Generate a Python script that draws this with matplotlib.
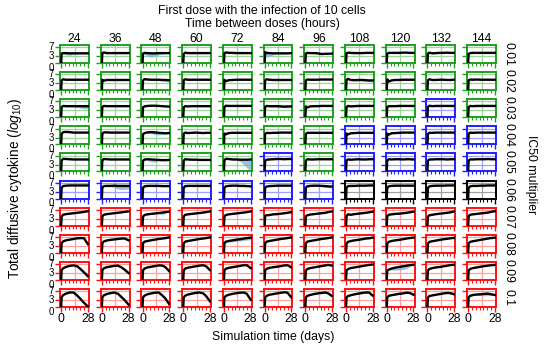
import matplotlib
matplotlib.use("Agg")
import matplotlib.pyplot as plt

plt.rcParams['font.family'] = ['Liberation Sans', 'DejaVu Sans']
plt.rcParams['mathtext.fontset'] = 'custom'
plt.rcParams['mathtext.it'] = 'Liberation Sans:italic'
plt.rcParams['mathtext.rm'] = 'Liberation Sans'

# ---------------- data ----------------
intervals = ["24", "36", "48", "60", "72", "84", "96", "108", "120", "132", "144"]
multipliers = ["0.01", "0.02", "0.03", "0.04", "0.05", "0.06", "0.07", "0.08", "0.09", "0.1"]
days = [0, 0.5, 2, 5, 9, 13, 17, 21, 24, 28]

frame_codes = [
    "GGGGGGGGGGG",
    "GGGGGGGGGGG",
    "GGGGGGGGGBG",
    "GGGGGGGBBBB",
    "GGGGGBGBBBB",
    "BBBBBBBKKKK",
    "RRRRRRRRRRR",
    "RRRRRRRRRRR",
    "RRRRRRRRRRR",
    "RRRRRRRRRRR",
]

ic50_001 = [
    [0, 4.2, 4.4, 4.4, 4.3, 4.3, 4.3, 4.3, 4.3, 4.3],
    [0, 4.3, 4.7, 4.4, 4.4, 4.4, 4.4, 4.4, 4.4, 4.4],
    [0, 4.2, 4.5, 4.4, 4.3, 4.3, 4.4, 4.4, 4.4, 4.4],
    [0, 4.0, 4.6, 4.4, 4.4, 4.4, 4.4, 4.4, 4.4, 4.4],
    [0, 4.3, 4.7, 4.5, 4.5, 4.4, 4.4, 4.4, 4.4, 4.4],
    [0, 4.8, 4.5, 4.4, 4.3, 4.3, 4.3, 4.3, 4.3, 4.4],
    [0, 4.2, 4.5, 4.4, 4.4, 4.3, 4.0, 4.1, 4.1, 4.2],
    [0, 4.3, 4.6, 4.5, 4.4, 4.4, 4.4, 4.5, 4.5, 4.5],
    [0, 4.2, 4.5, 4.5, 4.5, 4.5, 4.6, 4.6, 4.5, 4.5],
    [0, 4.2, 4.6, 4.3, 4.4, 4.5, 4.5, 4.6, 4.5, 4.5],
    [0, 4.0, 4.4, 4.5, 4.5, 4.5, 4.5, 4.5, 4.5, 4.5],
]
ic50_002 = [
    [0, 4.3, 4.8, 4.6, 4.6, 4.6, 4.6, 4.6, 4.6, 4.6],
    [0, 4.6, 4.2, 4.5, 4.5, 4.5, 4.5, 4.5, 4.5, 4.5],
    [0, 4.3, 4.9, 4.7, 4.6, 4.6, 4.6, 4.5, 4.5, 4.4],
    [0, 4.4, 4.8, 4.6, 4.6, 4.6, 4.6, 4.6, 4.6, 4.6],
    [0, 4.6, 4.0, 4.4, 4.5, 4.6, 4.6, 4.6, 4.6, 4.6],
    [0, 4.3, 4.8, 4.6, 4.5, 4.5, 4.5, 4.5, 4.5, 4.5],
    [0, 4.3, 4.7, 4.6, 4.6, 4.6, 4.7, 4.7, 4.7, 4.7],
    [0, 4.5, 5.0, 4.5, 4.4, 4.5, 4.5, 4.4, 4.3, 4.3],
    [0, 4.8, 3.8, 4.3, 4.5, 4.5, 4.6, 4.6, 4.6, 4.6],
    [0, 4.4, 4.8, 4.5, 4.5, 4.6, 4.6, 4.5, 4.5, 4.6],
    [0, 4.3, 4.7, 4.6, 4.7, 4.6, 4.6, 4.6, 4.6, 4.6],
]
ic50_003 = [
    [0, 4.5, 5.0, 4.9, 4.9, 4.9, 4.9, 4.9, 4.9, 4.9],
    [0, 4.5, 5.0, 4.9, 4.9, 4.9, 4.9, 4.9, 4.9, 4.9],
    [0, 4.4, 4.8, 5.0, 5.1, 5.1, 5.0, 4.9, 4.8, 4.7],
    [0, 4.4, 4.9, 4.8, 4.9, 4.9, 4.9, 4.9, 4.9, 4.9],
    [0, 4.5, 5.1, 5.0, 5.0, 5.0, 5.0, 5.0, 5.0, 5.0],
    [0, 4.6, 5.0, 4.9, 4.9, 4.9, 4.8, 4.7, 4.8, 4.8],
    [0, 4.8, 4.3, 4.8, 4.9, 4.9, 5.0, 5.0, 5.0, 5.0],
    [0, 4.5, 5.0, 4.8, 4.9, 5.0, 5.0, 5.0, 5.0, 5.0],
    [0, 4.5, 4.9, 4.9, 4.9, 5.0, 5.0, 5.0, 5.0, 5.0],
    [0, 4.6, 5.1, 4.9, 5.0, 5.0, 5.0, 5.0, 5.0, 5.0],
    [0, 4.5, 5.0, 4.9, 5.0, 5.0, 5.0, 5.0, 5.0, 5.0],
]
ic50_004 = [
    [0, 4.6, 5.4, 5.5, 5.4, 5.2, 5.2, 5.2, 5.2, 5.2],
    [0, 4.6, 5.3, 5.3, 5.2, 5.2, 5.2, 5.2, 5.2, 5.2],
    [0, 4.5, 5.0, 5.3, 5.4, 5.3, 5.1, 5.0, 4.9, 5.0],
    [0, 4.7, 5.2, 5.0, 5.1, 5.2, 5.1, 5.0, 5.1, 5.1],
    [0, 4.8, 4.5, 5.0, 5.1, 5.1, 5.1, 5.1, 5.1, 5.1],
    [0, 4.6, 5.1, 5.0, 5.1, 5.1, 5.2, 5.2, 5.2, 5.2],
    [0, 4.6, 5.1, 5.1, 5.1, 5.1, 5.1, 5.1, 5.1, 5.1],
    [0, 4.8, 4.4, 4.9, 5.0, 5.1, 5.1, 5.1, 5.1, 5.1],
    [0, 4.8, 4.3, 4.9, 5.0, 5.1, 5.2, 5.2, 5.2, 5.2],
    [0, 4.6, 5.1, 5.1, 5.2, 5.2, 5.2, 5.2, 5.2, 5.2],
    [0, 4.6, 5.2, 5.1, 5.2, 5.2, 5.2, 5.2, 5.2, 5.2],
]
ic50_005 = [
    [0, 4.8, 5.6, 5.5, 5.4, 5.3, 5.3, 5.3, 5.3, 5.3],
    [0, 4.8, 5.5, 5.4, 5.3, 5.3, 5.3, 5.3, 5.3, 5.3],
    [0, 4.7, 5.3, 5.4, 5.3, 5.2, 5.1, 5.0, 5.0, 5.1],
    [0, 4.7, 5.4, 5.3, 5.2, 5.2, 5.1, 5.1, 5.1, 5.1],
    [0, 4.9, 5.6, 5.5, 5.3, 5.3, 5.2, 5.2, 5.2, 5.3],
    [0, 4.7, 5.2, 5.3, 5.4, 5.5, 5.5, 5.4, 5.5, 5.5],
    [0, 4.8, 5.4, 5.3, 5.3, 5.4, 5.4, 5.4, 5.4, 5.4],
    [0, 4.8, 5.3, 5.2, 5.3, 5.4, 5.3, 5.3, 5.4, 5.4],
    [0, 4.8, 5.4, 5.3, 5.4, 5.4, 5.3, 5.4, 5.4, 5.3],
    [0, 4.8, 5.3, 5.3, 5.4, 5.4, 5.4, 5.3, 5.4, 5.4],
    [0, 4.8, 5.3, 5.3, 5.4, 5.4, 5.4, 5.5, 5.4, 5.4],
]
ic50_006 = [
    [0, 4.8, 5.5, 5.7, 5.8, 5.8, 5.8, 5.8, 5.8, 5.8],
    [0, 4.8, 5.5, 5.6, 5.6, 5.7, 5.6, 5.6, 5.6, 5.6],
    [0, 4.8, 5.4, 5.6, 5.6, 5.6, 5.6, 5.5, 5.5, 5.5],
    [0, 4.8, 5.5, 5.6, 5.6, 5.6, 5.6, 5.6, 5.6, 5.6],
    [0, 4.8, 5.4, 5.6, 5.7, 5.7, 5.6, 5.6, 5.5, 5.4],
    [0, 4.8, 5.3, 5.5, 5.6, 5.7, 5.7, 5.7, 5.7, 5.7],
    [0, 4.8, 5.4, 5.6, 5.7, 5.7, 5.6, 5.5, 5.4, 5.3],
    [0, 4.8, 5.5, 5.6, 5.6, 5.7, 5.7, 5.7, 5.8, 5.8],
    [0, 4.7, 5.4, 5.6, 5.7, 5.7, 5.7, 5.7, 5.7, 5.7],
    [0, 4.7, 5.4, 5.6, 5.7, 5.7, 5.7, 5.8, 5.8, 5.8],
    [0, 4.7, 5.4, 5.6, 5.6, 5.7, 5.7, 5.8, 5.8, 5.8],
]
ic50_007 = [
    [0, 4.0, 4.8, 5.1, 5.3, 5.5, 5.7, 5.9, 6.1, 6.4],
    [0, 4.0, 4.8, 5.1, 5.3, 5.5, 5.7, 5.9, 6.1, 6.3],
    [0, 4.0, 4.7, 5.0, 5.2, 5.4, 5.6, 5.8, 6.0, 6.2],
    [0, 4.0, 4.8, 5.0, 5.2, 5.4, 5.6, 5.8, 6.0, 6.3],
    [0, 4.0, 4.7, 5.0, 5.2, 5.4, 5.6, 5.8, 6.0, 6.3],
    [0, 4.3, 4.6, 4.7, 5.0, 5.1, 5.3, 5.5, 5.7, 6.0],
    [0, 4.1, 4.6, 4.9, 5.1, 5.3, 5.5, 5.7, 6.0, 6.3],
    [0, 4.1, 5.0, 4.8, 5.1, 5.3, 5.5, 5.7, 5.9, 6.2],
    [0, 4.1, 4.8, 5.0, 5.2, 5.3, 5.5, 5.7, 5.9, 6.2],
    [0, 4.0, 4.6, 4.8, 5.1, 5.3, 5.5, 5.7, 5.9, 6.3],
    [0, 4.1, 4.8, 5.0, 5.2, 5.4, 5.6, 5.8, 6.1, 6.4],
]
ic50_008 = [
    [0, 4.2, 5.0, 5.5, 5.8, 6.1, 6.4, 6.5, 6.4, 3.8],
    [0, 4.2, 5.0, 5.4, 5.7, 5.9, 6.1, 6.3, 6.3, 5.5],
    [0, 4.2, 4.9, 5.2, 5.5, 5.8, 6.1, 6.3, 6.5, 6.8],
    [0, 4.2, 4.9, 5.2, 5.5, 5.8, 6.1, 6.3, 6.5, 6.8],
    [0, 4.2, 4.9, 5.2, 5.5, 5.8, 6.0, 6.3, 6.5, 6.7],
    [0, 4.2, 4.9, 5.2, 5.5, 5.8, 6.1, 6.3, 6.5, 6.8],
    [0, 4.2, 4.9, 5.2, 5.5, 5.8, 6.1, 6.3, 6.5, 6.8],
    [0, 4.1, 4.8, 5.2, 5.5, 5.7, 6.0, 6.3, 6.4, 6.7],
    [0, 4.1, 4.8, 5.2, 5.5, 5.7, 6.0, 6.3, 6.5, 6.7],
    [0, 4.1, 4.8, 5.1, 5.4, 5.7, 6.0, 6.2, 6.4, 6.6],
    [0, 4.1, 4.8, 5.1, 5.4, 5.7, 6.0, 6.3, 6.5, 6.7],
]
ic50_009 = [
    [0, 4.3, 5.1, 5.7, 6.2, 6.4, 6.0, 4.5, 3.3, 1.6],
    [0, 4.2, 5.1, 5.6, 5.9, 6.2, 6.3, 5.4, 4.5, 3.0],
    [0, 4.2, 5.0, 5.5, 5.8, 6.1, 6.4, 6.3, 5.6, 3.8],
    [0, 4.2, 5.0, 5.4, 5.7, 6.0, 6.3, 6.5, 6.0, 4.3],
    [0, 4.2, 4.9, 5.3, 5.6, 5.9, 6.2, 6.5, 6.5, 5.2],
    [0, 4.2, 4.9, 5.3, 5.6, 5.8, 6.1, 6.4, 6.5, 5.5],
    [0, 4.1, 4.8, 5.2, 5.5, 5.8, 6.1, 6.4, 6.6, 6.3],
    [0, 4.1, 4.8, 5.2, 5.5, 5.8, 6.1, 6.4, 6.6, 6.8],
    [0, 4.1, 4.5, 5.0, 5.4, 5.7, 6.0, 6.3, 6.5, 6.7],
    [0, 4.1, 4.8, 5.2, 5.5, 5.7, 6.0, 6.3, 6.5, 6.7],
    [0, 4.1, 4.8, 5.2, 5.5, 5.8, 6.1, 6.3, 6.5, 6.6],
]
ic50_010 = [
    [0, 4.3, 5.2, 5.9, 6.4, 6.4, 5.0, 3.2, 1.8, 0.2],
    [0, 4.3, 5.1, 5.7, 6.1, 6.4, 5.8, 4.2, 3.0, 1.0],
    [0, 4.2, 5.0, 5.6, 6.0, 6.3, 6.4, 5.0, 3.7, 1.2],
    [0, 4.2, 5.0, 5.5, 5.9, 6.2, 6.4, 6.0, 4.8, 2.5],
    [0, 4.2, 4.9, 5.4, 5.8, 6.1, 6.3, 6.4, 5.8, 3.2],
    [0, 4.2, 4.9, 5.4, 5.7, 6.0, 6.3, 6.5, 6.3, 4.2],
    [0, 4.2, 4.9, 5.3, 5.7, 6.0, 6.2, 6.4, 6.0, 4.8],
    [0, 4.2, 4.8, 5.2, 5.6, 5.9, 6.2, 6.4, 6.4, 5.0],
    [0, 4.2, 4.9, 5.2, 5.5, 5.8, 6.0, 6.3, 6.2, 5.4],
    [0, 4.2, 4.8, 5.1, 5.4, 5.7, 6.0, 6.2, 6.1, 5.6],
    [0, 4.2, 4.9, 5.3, 5.5, 5.6, 5.8, 5.9, 5.6, 5.3],
]
mean_rows = [ic50_001, ic50_002, ic50_003, ic50_004, ic50_005,
             ic50_006, ic50_007, ic50_008, ic50_009, ic50_010]

# lower edge of the blue replicate band (row, col)
band_cells = [(0, 0), (0, 2), (0, 5), (1, 2), (1, 7), (2, 0), (2, 5), (3, 2),
              (4, 2), (4, 4), (5, 1), (5, 6), (6, 2), (7, 4), (8, 1), (8, 8),
              (9, 2), (9, 10)]
band_low = [
    [0, 4.0, 4.0, 3.6, 3.5, 3.8, 4.1, 4.2, 4.2, 4.2],
    [0, 4.0, 4.0, 3.0, 2.6, 3.0, 3.6, 4.0, 4.2, 4.2],
    [0, 3.0, 2.6, 3.2, 3.6, 4.0, 4.1, 4.1, 4.1, 4.2],
    [0, 4.1, 4.7, 4.5, 4.4, 4.4, 4.3, 4.0, 3.8, 3.6],
    [0, 4.3, 4.8, 4.3, 4.2, 4.2, 4.1, 3.9, 3.7, 3.6],
    [0, 4.3, 4.8, 4.7, 4.7, 4.6, 4.4, 4.0, 3.8, 3.8],
    [0, 4.4, 4.8, 4.6, 4.5, 4.5, 4.4, 4.2, 4.2, 4.3],
    [0, 4.3, 4.8, 4.8, 4.7, 4.3, 4.2, 4.4, 4.6, 4.8],
    [0, 4.5, 5.1, 5.0, 4.3, 4.2, 4.7, 4.8, 4.9, 5.0],
    [0, 4.7, 5.4, 5.3, 5.1, 5.0, 4.4, 3.0, 1.6, 0.1],
    [0, 4.6, 5.3, 5.4, 5.4, 4.8, 4.2, 4.0, 4.1, 4.2],
    [0, 4.6, 5.2, 5.4, 5.5, 5.5, 5.3, 5.0, 4.8, 4.7],
    [0, 3.9, 4.6, 4.9, 5.0, 5.2, 5.3, 4.9, 5.6, 6.0],
    [0, 3.9, 4.6, 4.8, 4.9, 5.0, 5.2, 5.5, 5.6, 5.8],
    [0, 4.1, 5.0, 5.5, 5.8, 6.1, 6.1, 4.9, 3.8, 2.3],
    [0, 4.0, 4.3, 4.4, 4.3, 4.4, 4.6, 5.0, 5.9, 6.5],
    [0, 4.1, 4.9, 5.5, 5.9, 6.2, 6.1, 4.6, 3.2, 0.8],
    [0, 4.1, 4.7, 5.0, 5.2, 5.1, 4.9, 5.1, 5.2, 5.1],
]

# upper edge of the orange replicate band (row, col)
orange_cells = [(0, 5), (1, 0), (1, 9), (3, 2), (8, 10), (9, 8)]
orange_high = [
    [0, 5.0, 5.0, 4.8, 4.7, 4.6, 4.6, 4.6, 4.6, 4.6],
    [0, 4.4, 4.9, 4.7, 4.7, 4.7, 4.8, 4.9, 4.9, 4.9],
    [0, 4.5, 4.9, 4.7, 4.7, 4.9, 5.0, 4.8, 4.7, 4.8],
    [0, 4.6, 5.1, 5.5, 5.6, 5.5, 5.3, 5.2, 5.1, 5.2],
    [0, 4.2, 4.9, 5.3, 5.6, 5.9, 6.2, 6.5, 6.8, 7.0],
    [0, 4.3, 5.0, 5.3, 5.6, 5.9, 6.2, 6.5, 6.5, 6.2],
]

# ---------------- drawing ----------------
frame_colors = {"G": "#1fa01f", "B": "#1f1fff", "R": "#ff1010", "K": "#000000"}
grid_colors = {"G": "#9fd49f", "B": "#a0a0ff", "R": "#ffa0a0", "K": "#a0a0a0"}
W, H = 550.0, 349.0
fig = plt.figure(figsize=(W / 100, H / 100), dpi=100)
fs = 8.8
tfs = 7.0

col_left0, col_step, cell_w = 60.0, 40.7, 29.0
row_top0, row_step, cell_h = 45.0, 27.1, 18.0

axes = {}
for r in range(len(multipliers)):
    for c in range(len(intervals)):
        x0 = col_left0 + col_step * c
        y0 = row_top0 + row_step * r
        ax = fig.add_axes([x0 / W, 1 - (y0 + cell_h) / H, cell_w / W, cell_h / H])
        axes[(r, c)] = ax
        code = frame_codes[r][c]
        fc = frame_colors[code]
        gc = grid_colors[code]
        ax.set_xlim(-1.2, 29.2)
        ax.set_ylim(0, 8)
        for y in (3, 7):
            ax.axhline(y, color=gc, lw=0.9, zorder=0)
        ax.axvline(14, color=gc, lw=0.9, zorder=0)
        for s in ax.spines.values():
            s.set_color(fc)
            s.set_linewidth(1.4)
        ax.set_yticks([0, 3, 7])
        ax.set_xticks([0, 28])
        ax.set_xticks([4, 8, 12, 16, 20, 24], minor=True)
        ax.tick_params(axis="both", which="major", color=fc, length=3.5, width=1.0,
                       labelsize=fs, pad=1)
        ax.tick_params(axis="x", which="minor", color=fc, length=2, width=0.8)
        if c != 0:
            ax.set_yticklabels([])
        else:
            ax.set_yticklabels(["0", "3", "7"], fontsize=tfs)
            labs = ax.get_yticklabels()
            labs[0].set_verticalalignment("top")
            labs[1].set_verticalalignment("center")
            labs[2].set_verticalalignment("center")
        if r != len(multipliers) - 1:
            ax.set_xticklabels([])
        else:
            ax.set_xticklabels(["0", "28"], fontsize=fs)
        ax.plot(days, mean_rows[r][c], color="black", lw=1.7, zorder=3,
                solid_joinstyle="round")

for (r, c), low in zip(band_cells, band_low):
    axes[(r, c)].fill_between(days, low, mean_rows[r][c], color="#7fb3d5",
                              alpha=0.8, lw=0, zorder=2)
for (r, c), high in zip(orange_cells, orange_high):
    axes[(r, c)].fill_between(days, mean_rows[r][c], high, color="#e6b48a",
                              alpha=0.8, lw=0, zorder=1)

# column headers and row labels
for c, lab in enumerate(intervals):
    xc = col_left0 + col_step * c + cell_w / 2
    fig.text(xc / W, 1 - 39 / H, lab, ha="center", va="center", fontsize=fs)
for r, lab in enumerate(multipliers):
    yc = row_top0 + row_step * r + cell_h / 2
    fig.text(508 / W, 1 - yc / H, lab, ha="center", va="center", fontsize=fs,
             rotation=-90)

fig.text(262 / W, 1 - 10.5 / H, "First dose with the infection of 10 cells",
         ha="center", va="center", fontsize=fs)
fig.text(262 / W, 1 - 24.5 / H, "Time between doses (hours)",
         ha="center", va="center", fontsize=fs)
fig.text(273 / W, 1 - 337 / H, "Simulation time (days)",
         ha="center", va="center", fontsize=fs)
fig.text(531 / W, 1 - 175 / H, "IC50 multiplier", ha="center", va="center",
         fontsize=fs, rotation=-90)
fig.text(15 / W, 1 - 188 / H, r"Total diffusive cytokine ($log_{10}$)",
         ha="center", va="center", fontsize=9.8, rotation=90)

fig.savefig("out.png", dpi=100)
